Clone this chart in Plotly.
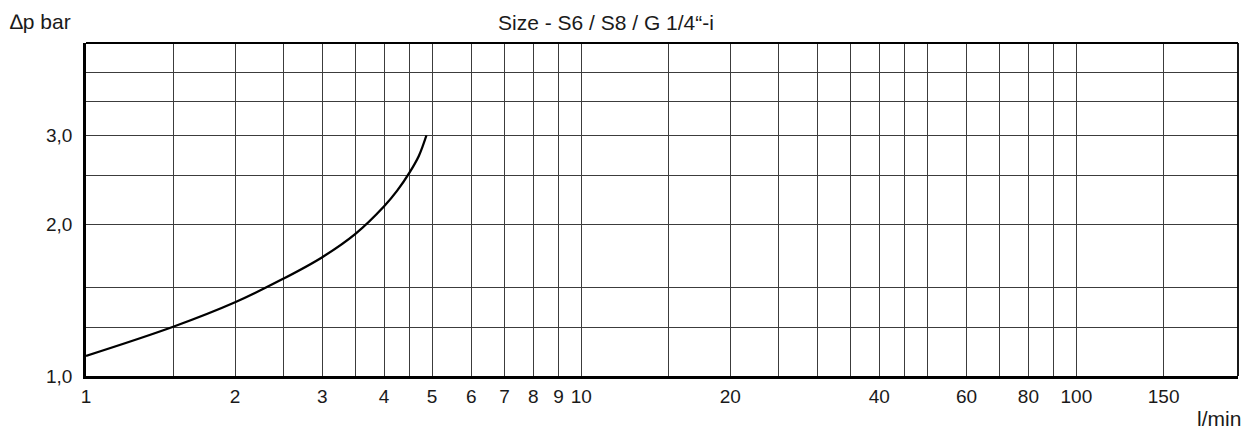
import numpy as np
import plotly.graph_objects as go

# Pressure drop curve (flow in l/min, differential pressure in bar)
flow = [1.0, 1.5, 2.0, 2.5, 3.0, 3.5, 4.0, 4.25, 4.5, 4.7, 4.87]
dp = [1.096, 1.252, 1.40, 1.558, 1.72, 1.913, 2.17, 2.33, 2.53, 2.73, 3.0]

# Grid positions and tick labels
x_grid = [1, 1.5, 2, 2.5, 3, 3.5, 4, 4.5, 5, 6, 7, 8, 9, 10, 15, 20, 25, 30, 35,
          40, 45, 50, 60, 70, 80, 90, 100, 150]
x_labels = ["1", "", "2", "", "3", "", "4", "", "5", "6", "7", "8", "9", "10", "",
            "20", "", "", "", "40", "", "", "60", "", "80", "", "100", "150"]
y_grid = [1.0, 1.25, 1.5, 2.0, 2.5, 3.0, 3.5, 4.0]
y_labels = ["1,0", "", "", "2,0", "", "3,0", "", ""]

x_max = 212.0
y_max = 4.57

FONT = "Liberation Sans, Arial, Helvetica, sans-serif"
GRID = "#3c3c3c"
TEXT = "#1a1a1a"

fig = go.Figure()
fig.add_trace(go.Scatter(
    x=flow, y=dp, mode="lines",
    line=dict(color="black", width=2.3, shape="spline", smoothing=1.0),
    hoverinfo="skip", showlegend=False,
))

fig.update_layout(
    width=1245, height=430,
    margin=dict(l=86, r=7, t=43, b=54),
    paper_bgcolor="white", plot_bgcolor="white",
    font=dict(family=FONT, size=19, color=TEXT),
    showlegend=False,
    xaxis=dict(
        type="log", range=[0, np.log10(x_max)],
        tickmode="array", tickvals=x_grid, ticktext=x_labels,
        showgrid=True, gridcolor=GRID, gridwidth=1.3,
        showline=True, linecolor="black", linewidth=2.5,
        ticks="", ticklabelstandoff=1, zeroline=False,
    ),
    yaxis=dict(
        type="log", range=[0, np.log10(y_max)],
        tickmode="array", tickvals=y_grid, ticktext=y_labels,
        showgrid=True, gridcolor=GRID, gridwidth=1.3,
        showline=True, linecolor="black", linewidth=2.5,
        ticks="", ticklabelstandoff=7, zeroline=False,
    ),
    shapes=[
        dict(type="line", xref="paper", yref="paper", x0=0, x1=1, y0=1, y1=1,
             line=dict(color="black", width=1.8)),
        dict(type="line", xref="paper", yref="paper", x0=1, x1=1, y0=0, y1=1,
             line=dict(color="black", width=1.8)),
    ],
    annotations=[
        dict(text="∆p bar", xref="paper", yref="paper", x=-(86 - 8) / (1238 - 86),
             y=1.0, yshift=43 - 21, xanchor="left", yanchor="middle",
             showarrow=False, font=dict(family=FONT, size=21, color=TEXT)),
        dict(text="Size - S6 / S8 / G 1/4“-i", xref="paper", yref="paper",
             x=(606 - 86) / (1238 - 86), y=1.0, yshift=43 - 22,
             xanchor="center", yanchor="middle", showarrow=False,
             font=dict(family=FONT, size=21, color=TEXT)),
        dict(text="l/min", xref="paper", yref="paper", x=1.0, y=0.0,
             xshift=5, yshift=-(418 - 376), xanchor="right", yanchor="middle",
             showarrow=False, font=dict(family=FONT, size=21, color=TEXT)),
    ],
)

fig.write_html("out.html")
